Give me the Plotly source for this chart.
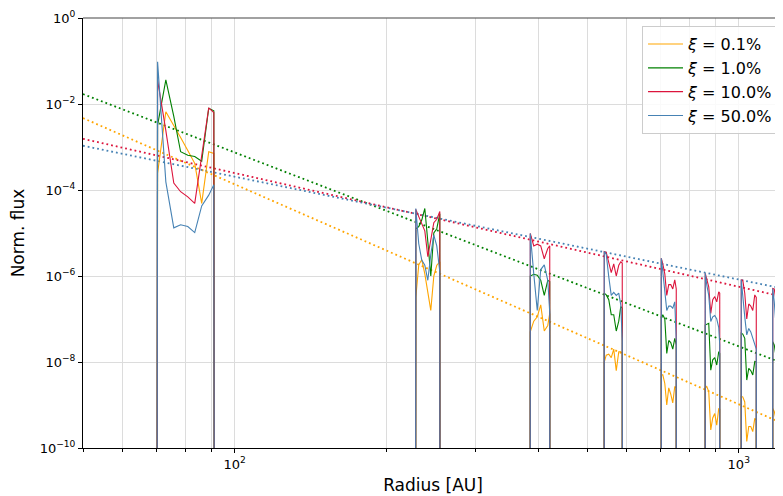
import numpy as np
import plotly.graph_objects as go

# ---------------- data ----------------
# radii [AU] of each ring segment; first/last entries are the ring edges
ring_radius = [
    [70.1, 70.3, 73.0, 75.7, 78.1, 80.7, 83.3, 86.0, 88.8, 90.9, 91.1],
    [228.5, 228.7, 231.8, 235.0, 238.3, 241.6, 244.9, 248.3, 251.7, 255.2, 255.4],
    [385.6, 385.8, 392.0, 398.3, 404.7, 411.3, 417.9, 421.7, 421.9],
    [540.7, 540.9, 545.9, 552.2, 558.5, 564.9, 571.4, 578.0, 583.3, 587.3, 587.5],
    [701.8, 702.0, 706.8, 713.3, 719.7, 726.3, 733.0, 739.7, 746.5, 751.6, 751.8],
    [857.8, 858.0, 863.9, 871.9, 879.9, 887.9, 896.1, 904.3, 912.6, 916.8, 917.0],
    [1011.2, 1011.5, 1018.5, 1027.8, 1037.2, 1046.7, 1056.4, 1066.1, 1075.9, 1083.3, 1083.6],
    [1167.7, 1168.0, 1176.0, 1186.8, 1197.7, 1208.7, 1219.8, 1233.8, 1256.6, 1279.8, 1280.1],
]

# log10 of normalised flux per ring (-14 = essentially zero, below the axis)
log_flux_xi_0_1 = [
    [-14, -3.61, -2.18, -2.49, -2.78, -3.08, -3.38, -4.31, -3.11, -3.15, -14],
    [-14, -6.5, -5.74, -5.62, -5.95, -6.4, -6.8, -6.0, -5.75, -5.67, -14],
    [-14, -7.3, -7.05, -6.95, -6.67, -7.28, -7.15, -6.87, -14],
    [-14, -8.0, -7.84, -7.82, -7.9, -7.70, -8.2, -7.76, -7.76, -7.8, -14],
    [-14, -8.3, -8.30, -8.5, -9.0, -8.6, -8.75, -8.95, -8.57, -8.6, -14],
    [-14, -8.6, -8.57, -8.69, -9.58, -9.3, -9.2, -9.47, -9.08, -9.1, -14],
    [-14, -8.8, -8.81, -8.93, -9.85, -9.5, -9.5, -9.62, -9.31, -9.35, -14],
    [-14, -9.08, -9.15, -9.35, -9.93, -9.7, -9.62, -9.5, -9.5, -9.5, -14],
]
log_flux_xi_1 = [
    [-14, -2.49, -1.44, -2.29, -3.11, -3.19, -3.22, -3.33, -2.10, -2.16, -14],
    [-14, -4.9, -4.85, -4.7, -4.43, -5.2, -6.0, -5.0, -4.9, -4.55, -14],
    [-14, -6.0, -5.96, -5.98, -6.10, -6.45, -6.10, -6.13, -14],
    [-14, -6.40, -6.44, -6.55, -6.90, -6.90, -7.28, -7.05, -6.71, -6.75, -14],
    [-14, -6.95, -6.90, -7.0, -7.80, -7.5, -7.55, -7.7, -7.45, -7.6, -14],
    [-14, -7.14, -7.12, -7.10, -8.19, -7.95, -7.9, -8.07, -7.76, -7.8, -14],
    [-14, -7.33, -7.35, -7.45, -8.42, -8.15, -8.2, -8.3, -7.99, -8.0, -14],
    [-14, -7.53, -7.6, -7.9, -8.53, -8.45, -8.38, -8.2, -8.2, -8.2, -14],
]
log_flux_xi_10 = [
    [-14, -1.44, -2.62, -3.84, -4.04, -4.16, -4.31, -3.20, -2.09, -2.20, -14],
    [-14, -4.45, -4.62, -4.80, -4.95, -5.55, -5.15, -4.76, -4.68, -4.50, -14],
    [-14, -5.01, -5.30, -5.26, -5.30, -5.60, -5.36, -5.30, -14],
    [-14, -5.43, -5.45, -5.70, -5.92, -5.72, -6.00, -5.75, -5.67, -5.70, -14],
    [-14, -5.59, -5.72, -5.95, -6.45, -6.2, -6.2, -6.3, -6.09, -6.3, -14],
    [-14, -5.94, -6.05, -6.25, -6.87, -6.55, -6.48, -6.6, -6.37, -6.4, -14],
    [-14, -6.09, -6.1, -6.4, -7.0, -6.65, -6.7, -6.8, -6.44, -6.5, -14],
    [-14, -6.29, -6.3, -6.6, -7.1, -7.1, -7.06, -6.9, -6.9, -6.8, -14],
]
log_flux_xi_50 = [
    [-14, -1.02, -3.81, -4.88, -4.81, -4.85, -4.99, -4.37, -4.12, -3.88, -14],
    [-14, -4.43, -5.25, -5.63, -5.75, -6.1, -5.5, -5.05, -5.3, -5.9, -14],
    [-14, -5.01, -5.95, -6.80, -5.85, -5.74, -6.10, -6.85, -14],
    [-14, -5.43, -5.50, -6.02, -6.45, -6.38, -6.45, -6.40, -6.67, -7.5, -14],
    [-14, -5.59, -5.90, -6.3, -6.80, -6.7, -6.7, -6.75, -6.6, -7.5, -14],
    [-14, -5.94, -6.2, -6.45, -7.06, -6.95, -6.92, -7.0, -7.2, -7.6, -14],
    [-14, -6.09, -6.5, -6.95, -7.37, -7.22, -7.3, -7.45, -7.6, -7.7, -14],
    [-14, -6.29, -6.6, -7.2, -7.53, -7.45, -7.37, -7.5, -7.6, -7.7, -14],
]

# power-law fits (dotted), end points
fit_radius = [50.0, 1224.0]
fit_xi_0_1 = [4.7e-3, 3.7e-10]
fit_xi_1 = [1.7e-2, 9.3e-9]
fit_xi_10 = [1.55e-3, 3.3e-7]
fit_xi_50 = [1.07e-3, 5.1e-7]

labels = ["<i>ξ</i> = 0.1%", "<i>ξ</i> = 1.0%", "<i>ξ</i> = 10.0%", "<i>ξ</i> = 50.0%"]
colors = ["#FFA500", "#008000", "#DC143C", "#4682B4"]

x_major = [100, 1000]
x_major_text = ["10<sup>2</sup>", "10<sup>3</sup>"]
x_minor = [50, 60, 70, 80, 90, 200, 300, 400, 500, 600, 700, 800, 900]
y_major = [1e0, 1e-2, 1e-4, 1e-6, 1e-8, 1e-10]
y_major_text = ["10<sup>0</sup>", "10<sup>−2</sup>", "10<sup>−4</sup>",
                "10<sup>−6</sup>", "10<sup>−8</sup>", "10<sup>−10</sup>"]

# ---------------- figure ----------------
r_all = np.concatenate([np.array(r) for r in ring_radius])
series = [log_flux_xi_0_1, log_flux_xi_1, log_flux_xi_10, log_flux_xi_50]
fits = [fit_xi_0_1, fit_xi_1, fit_xi_10, fit_xi_50]

fig = go.Figure()
for lab, col, fit in zip(labels, colors, fits):
    fig.add_trace(go.Scatter(x=fit_radius, y=fit, mode="lines",
                             line=dict(color=col, width=1.8, dash="1.8px,3px"),
                             showlegend=False, hoverinfo="skip"))
for lab, col, s in zip(labels, colors, series):
    y = 10.0 ** np.concatenate([np.array(v, dtype=float) for v in s])
    fig.add_trace(go.Scatter(x=r_all, y=y, mode="lines", name=lab,
                             line=dict(color=col, width=1.1)))

font_family = "DejaVu Sans, Liberation Sans, sans-serif"
# the page body adds an 8px offset, so the figure is 8px smaller than the window
fig.update_layout(
    width=775, height=488,
    margin=dict(l=75, r=0, t=10, b=48),
    paper_bgcolor="white", plot_bgcolor="white",
    font=dict(family=font_family, color="black", size=13),
    showlegend=True,
    legend=dict(x=0.7986, y=0.981, xanchor="left", yanchor="top",
                bgcolor="rgba(255,255,255,0.85)", bordercolor="#cccccc",
                borderwidth=1, font=dict(size=16, family=font_family),
                tracegroupgap=0, itemwidth=35),
    xaxis=dict(type="log", range=[np.log10(50), np.log10(1224)],
               tickmode="array", tickvals=x_major, ticktext=x_major_text,
               ticks="outside", ticklen=4, tickcolor="black",
               showline=True, linecolor="black", linewidth=1,
               showgrid=True, gridcolor="#dcdcdc", gridwidth=1,
               minor=dict(tickmode="array", tickvals=x_minor, ticks="outside",
                          ticklen=3, tickcolor="black", showgrid=True,
                          gridcolor="#dcdcdc", gridwidth=1),
               zeroline=False,
               title=dict(text="Radius [AU]", font=dict(size=17), standoff=8),
               tickfont=dict(size=13)),
    yaxis=dict(type="log", range=[-10, 0],
               tickmode="array", tickvals=y_major, ticktext=y_major_text,
               ticks="outside", ticklen=4, tickcolor="black",
               showline=True, linecolor="black", linewidth=1,
               showgrid=True, gridcolor="#dcdcdc", gridwidth=1,
               zeroline=False,
               title=dict(text="Norm. flux", font=dict(size=17), standoff=10),
               tickfont=dict(size=13)),
    shapes=[dict(type="line", xref="paper", yref="paper", x0=0, x1=1, y0=1, y1=1,
                 line=dict(color="#444444", width=1.2))],
)

fig.write_html("out.html")
